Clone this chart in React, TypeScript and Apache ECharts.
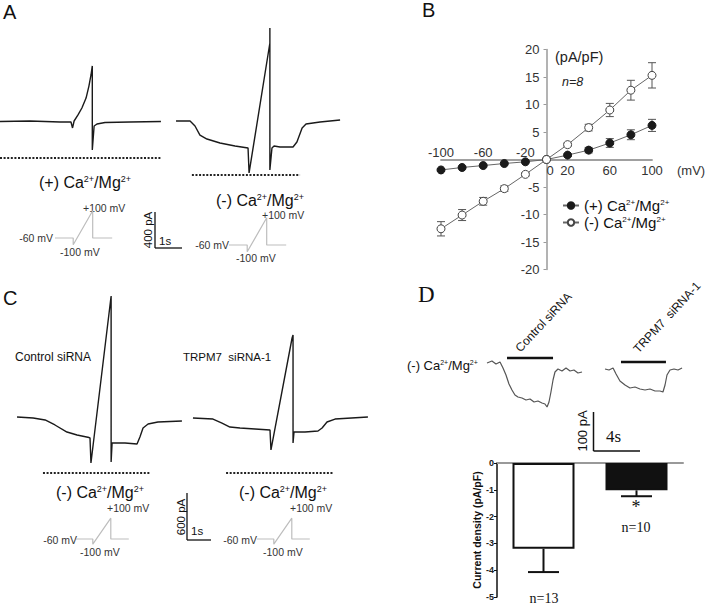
import React, { useEffect, useRef } from 'react';
import * as echarts from 'echarts';

const SANS = 'Liberation Sans, Arial, sans-serif';
const SERIF = 'Liberation Serif, Times New Roman, serif';

// ---- Panel B: I-V relationship ----
const IV_VOLTAGE = [-100, -80, -60, -40, -20, 0, 20, 40, 60, 80, 100];
const IV_PLUS = [-1.9, -1.45, -1.1, -0.73, -0.42, 0, 0.8, 1.7, 3.0, 4.5, 6.2];
const IV_PLUS_ERR = [0.2, 0.2, 0.2, 0.2, 0.15, 0, 0.25, 0.5, 0.8, 0.9, 1.1];
const IV_MINUS = [-12.6, -10.1, -7.6, -5.3, -2.7, 0, 2.7, 5.8, 9.0, 12.6, 15.3];
const IV_MINUS_ERR = [1.3, 1.0, 0.7, 0.5, 0.3, 0, 0.3, 0.6, 1.2, 1.8, 2.3];
const IV_LABELS_ABOVE = [-100, -60, -20];
const IV_LABELS_BELOW = [0, 20, 60, 100];
const PLUS_NAME = '(+) Ca2+/Mg2+';
const MINUS_NAME = '(-) Ca2+/Mg2+';

// ---- Panel D: current density bars ----
const BAR_GROUPS = ['Control siRNA', 'TRPM7 siRNA-1'];
const BAR_MEANS = [-3.2, -1.02];
const BAR_ERRS = [0.87, 0.22];
const BAR_N = ['n=13', 'n=10'];

// ---- Current traces (time s, current pA) ----
const A_TRACE_PLUS = [[0, -5], [1.15, 0], [2.31, -10], [2.73, -10], [2.79, -68], [2.85, 0], [3.0, 59], [3.15, 127], [3.31, 224], [3.42, 341], [3.5, 449], [3.55, 537], [3.55, -283], [3.62, -49], [3.73, -29], [4.04, -15], [5.0, -10], [6.19, -5]];
const A_TRACE_MINUS = [[6.77, 0], [7.31, 0], [7.5, -49], [7.69, -137], [7.96, -176], [8.46, -215], [9.04, -244], [9.54, -263], [9.58, -507], [10.38, 761], [10.38, 907], [10.38, -478], [10.46, -263], [10.54, -244], [10.77, -254], [11.27, -254], [11.42, -205], [11.62, -68], [11.77, -29], [12.31, -10], [13.08, 10]];
const A_ZERO_PLUS = [[0, -361], [6.23, -361]];
const A_ZERO_MINUS = [[7.38, -527], [11.54, -527]];

const C_TRACE_CONTROL = [[0.71, 0], [1.38, -13], [1.88, -38], [2.29, -102], [2.79, -192], [3.21, -230], [3.71, -262], [3.75, -268], [3.79, -587], [4.63, 1545], [4.63, -575], [4.67, -332], [5.21, -332], [5.71, -345], [5.83, -255], [5.96, -140], [6.17, -89], [6.58, -64], [7.58, -51]];
const C_TRACE_TRPM7 = [[8.04, -13], [8.875, -26], [9.25, -77], [9.58, -128], [10.0, -140], [10.625, -153], [11.25, -166], [11.29, -421], [12.17, 1009], [12.21, 1047], [12.21, -332], [12.25, -192], [12.71, -192], [13.25, -179], [13.42, -140], [13.625, -64], [13.96, -26], [15.33, 0]];
const C_ZERO_CONTROL = [[1.79, -715], [6.25, -715]];
const C_ZERO_TRPM7 = [[9.42, -715], [13.875, -715]];

const D_TRACE_CONTROL = [[0.61, 5], [1.04, 10], [1.39, 2.5], [1.74, 7.5], [2.0, -7.5], [2.26, -25], [2.52, -47.5], [2.78, -62.5], [3.04, -75], [3.3, -80], [3.65, -82.5], [4.0, -87.5], [4.35, -85], [4.7, -92.5], [5.04, -90], [5.39, -95], [5.65, -97.5], [5.83, -105], [6.0, -92.5], [6.17, -67.5], [6.35, -37.5], [6.52, -17.5], [6.78, -10], [7.13, -15], [7.48, -7.5], [7.83, -15], [8.17, -12.5], [8.52, -20], [8.87, -17.5]];
const D_TRACE_TRPM7 = [[10.87, -10], [11.22, -12.5], [11.57, -7.5], [11.83, -22.5], [12.17, -40], [12.61, -50], [13.04, -57.5], [13.48, -55], [13.91, -60], [14.35, -62.5], [14.78, -60], [15.22, -65], [15.65, -65], [15.91, -67.5], [16.09, -50], [16.26, -25], [16.52, -12.5], [16.87, -10], [17.22, -12.5], [17.57, -7.5]];
const D_BAR_CONTROL = [[2.35, 17.5], [6.35, 17.5]];
const D_BAR_TRPM7 = [[12.26, 7.5], [16.17, 7.5]];

// ---- Voltage ramp protocol (s, mV) ----
const PROTOCOL = [[0, -60], [0.7, -60], [0.7, -100], [1.45, 100], [1.45, -60], [2.2, -60]];

const supText = (pre: string) => `{n|${pre} Ca}{s|2+}{n|/Mg}{s|2+}`;

function text(x: number, y: number, t: string, o: any = {}) {
  const { rotation, ...st } = o;
  return {
    type: 'text',
    x,
    y,
    rotation: rotation || 0,
    silent: true,
    style: {
      text: t,
      fill: '#111',
      fontFamily: SANS,
      fontSize: 12,
      align: 'left',
      verticalAlign: 'middle',
      textAlign: st.align || 'left',
      textVerticalAlign: st.verticalAlign || 'middle',
      ...st,
    },
  };
}

function richLabel(x: number, y: number, pre: string, size: number, align = 'center') {
  return text(x, y, supText(pre), {
    align,
    fontSize: size,
    rich: {
      n: { fontSize: size, fontFamily: SANS, fill: '#111' },
      s: { fontSize: Math.round(size * 0.55), fontFamily: SANS, fill: '#111', verticalAlign: 'top' },
    },
  });
}

function seg(x1: number, y1: number, x2: number, y2: number, color = '#111', w = 1.3) {
  return { type: 'line', silent: true, shape: { x1, y1, x2, y2 }, style: { stroke: color, lineWidth: w } };
}

function traceSeries(data: number[][], xi: number, yi: number, color = '#1a1a1a', width = 1.4, type: any = 'solid') {
  return {
    type: 'line',
    xAxisIndex: xi,
    yAxisIndex: yi,
    data,
    symbol: 'none',
    showSymbol: false,
    silent: true,
    clip: false,
    lineStyle: { color, width, type },
    z: 3,
  };
}

function hiddenX(gridIndex: number, min: number, max: number) {
  return { gridIndex, type: 'value', min, max, show: false };
}
function hiddenY(gridIndex: number, min: number, max: number) {
  return { gridIndex, type: 'value', min, max, show: false };
}

function buildOption() {
  const grids: any[] = [
    { left: 441, top: 49.5, width: 211, height: 220 }, // 0 B
    { left: 497, top: 463, width: 186, height: 134 }, // 1 D bars
    { left: 0, top: 18.5, width: 351, height: 205 }, // 2 A traces
    { left: 0, top: 260.4, width: 372, height: 313.2 }, // 3 C traces
    { left: 480, top: 317, width: 230, height: 96 }, // 4 D traces
    { left: 55, top: 210.8, width: 57.2, height: 34 }, // 5 protocol A left
    { left: 229, top: 217.8, width: 57.2, height: 34 }, // 6 protocol A right
    { left: 76, top: 518.2, width: 52.8, height: 26 }, // 7 protocol C left
    { left: 257, top: 518.2, width: 52.8, height: 26 }, // 8 protocol C right
  ].map((g) => ({ ...g, containLabel: false, outerBoundsMode: 'none', show: false }));

  const ivAxisCommon = {
    gridIndex: 0,
    type: 'value',
    min: -100,
    max: 100,
    interval: 20,
    offset: -110,
    axisLine: { onZero: false, lineStyle: { color: '#9a9a9a', width: 1.5 } },
    axisTick: { show: false },
    splitLine: { show: false },
  };

  const xAxis: any[] = [
    {
      ...ivAxisCommon,
      position: 'top',
      axisLabel: {
        margin: 1,
        color: '#333',
        fontSize: 13,
        fontFamily: SANS,
        formatter: (v: number) => (IV_LABELS_ABOVE.includes(v) ? String(v) : ''),
      },
    },
    {
      ...ivAxisCommon,
      position: 'bottom',
      axisLabel: {
        margin: 4,
        color: '#333',
        fontSize: 13,
        fontFamily: SANS,
        formatter: (v: number) => {
          if (!IV_LABELS_BELOW.includes(v)) return '';
          if (v === 0) return `{z|${v}}`;
          return String(v);
        },
        rich: {
          z: { fontSize: 13, fontFamily: SANS, color: '#333', padding: [0, 0, 0, 7] },
        },
      },
      name: '(mV)',
      nameLocation: 'end',
      nameGap: 25,
      nameTextStyle: { color: '#333', fontSize: 13, fontFamily: SANS, align: 'left', verticalAlign: 'top', padding: [4, 0, 0, 0] },
    },
    {
      gridIndex: 1,
      type: 'category',
      data: BAR_GROUPS,
      position: 'top',
      axisLine: { onZero: false, lineStyle: { color: '#999', width: 2 } },
      axisTick: { show: false },
      axisLabel: { show: false },
    },
    hiddenX(2, 0, 13.5),
    hiddenX(3, 0, 15.5),
    hiddenX(4, 0, 20),
    hiddenX(5, 0, 2.2),
    hiddenX(6, 0, 2.2),
    hiddenX(7, 0, 2.2),
    hiddenX(8, 0, 2.2),
  ];

  const yAxis: any[] = [
    {
      gridIndex: 0,
      type: 'value',
      min: -20,
      max: 20,
      interval: 5,
      position: 'left',
      offset: -105.5,
      axisLine: { onZero: false, lineStyle: { color: '#9a9a9a', width: 1.5 } },
      axisTick: { show: true, length: 3, lineStyle: { color: '#9a9a9a' } },
      axisLabel: {
        margin: 7,
        color: '#333',
        fontSize: 13,
        fontFamily: SANS,
        formatter: (v: number) => (v === 0 ? '' : String(v)),
      },
      splitLine: { show: false },
    },
    {
      gridIndex: 1,
      type: 'value',
      min: -5,
      max: 0,
      interval: 1,
      axisLine: { show: true, onZero: false, lineStyle: { color: '#111', width: 1.5 } },
      axisTick: { show: true, length: 3, lineStyle: { color: '#111' } },
      axisLabel: { margin: 3, color: '#222', fontSize: 9, fontWeight: 'bold', fontFamily: SANS },
      splitLine: { show: false },
      name: 'Current density (pA/pF)',
      nameLocation: 'middle',
      nameGap: 14,
      nameTextStyle: { color: '#111', fontSize: 10.5, fontWeight: 'bold', fontFamily: SANS },
    },
    hiddenY(2, -1000, 1000),
    hiddenY(3, -2000, 2000),
    hiddenY(4, -120, 120),
    hiddenY(5, -100, 100),
    hiddenY(6, -100, 100),
    hiddenY(7, -100, 100),
    hiddenY(8, -100, 100),
  ];

  const ivErrRender = (params: any, api: any) => {
    const x = api.value(0);
    const y = api.value(1);
    const e = api.value(2);
    if (!e) return null;
    const t = api.coord([x, y + e]);
    const b = api.coord([x, y - e]);
    const w = 4;
    const st = { stroke: '#555', lineWidth: 1 };
    return {
      type: 'group',
      children: [
        { type: 'line', shape: { x1: t[0], y1: t[1], x2: b[0], y2: b[1] }, style: st },
        { type: 'line', shape: { x1: t[0] - w, y1: t[1], x2: t[0] + w, y2: t[1] }, style: st },
        { type: 'line', shape: { x1: b[0] - w, y1: b[1], x2: b[0] + w, y2: b[1] }, style: st },
      ],
    };
  };

  const barErrRender = (params: any, api: any) => {
    const i = api.value(0);
    const m = api.value(1);
    const e = api.value(2);
    const a = api.coord([i, m]);
    const b = api.coord([i, m - e]);
    const w = 15.5;
    const st = { stroke: '#111', lineWidth: 2 };
    return {
      type: 'group',
      children: [
        { type: 'line', shape: { x1: a[0], y1: a[1], x2: b[0], y2: b[1] }, style: st },
        { type: 'line', shape: { x1: b[0] - w, y1: b[1], x2: b[0] + w, y2: b[1] }, style: st },
      ],
    };
  };

  const series: any[] = [
    {
      type: 'custom',
      xAxisIndex: 1,
      yAxisIndex: 0,
      data: IV_VOLTAGE.map((v, i) => [v, IV_PLUS[i], IV_PLUS_ERR[i]]),
      renderItem: ivErrRender,
      encode: { x: 0, y: 1 },
      silent: true,
      z: 2,
    },
    {
      type: 'custom',
      xAxisIndex: 1,
      yAxisIndex: 0,
      data: IV_VOLTAGE.map((v, i) => [v, IV_MINUS[i], IV_MINUS_ERR[i]]),
      renderItem: ivErrRender,
      encode: { x: 0, y: 1 },
      silent: true,
      z: 2,
    },
    {
      name: PLUS_NAME,
      type: 'line',
      xAxisIndex: 1,
      yAxisIndex: 0,
      data: IV_VOLTAGE.map((v, i) => [v, IV_PLUS[i]]),
      symbol: 'circle',
      symbolSize: 8,
      itemStyle: { color: '#1a1a1a', borderColor: '#1a1a1a', borderWidth: 1 },
      lineStyle: { color: '#666', width: 1 },
      silent: true,
      z: 5,
    },
    {
      name: MINUS_NAME,
      type: 'line',
      xAxisIndex: 1,
      yAxisIndex: 0,
      data: IV_VOLTAGE.map((v, i) => [v, IV_MINUS[i]]),
      symbol: 'circle',
      symbolSize: 8,
      itemStyle: { color: '#ffffff', borderColor: '#444', borderWidth: 1 },
      lineStyle: { color: '#666', width: 1 },
      silent: true,
      z: 5,
    },
    {
      type: 'bar',
      xAxisIndex: 2,
      yAxisIndex: 1,
      barWidth: 62,
      silent: true,
      data: [
        { value: BAR_MEANS[0], itemStyle: { color: '#ffffff', borderColor: '#111', borderWidth: 2 } },
        { value: BAR_MEANS[1], itemStyle: { color: '#111', borderColor: '#111', borderWidth: 2 } },
      ],
      z: 2,
    },
    {
      type: 'custom',
      xAxisIndex: 2,
      yAxisIndex: 1,
      data: BAR_MEANS.map((m, i) => [i, m, BAR_ERRS[i]]),
      renderItem: barErrRender,
      encode: { x: 0, y: 1 },
      silent: true,
      z: 3,
    },
    traceSeries(A_TRACE_PLUS, 3, 2),
    traceSeries(A_TRACE_MINUS, 3, 2),
    traceSeries(A_ZERO_PLUS, 3, 2, '#222', 2, [2, 1.6]),
    traceSeries(A_ZERO_MINUS, 3, 2, '#222', 2, [2, 1.6]),
    traceSeries(C_TRACE_CONTROL, 4, 3),
    traceSeries(C_TRACE_TRPM7, 4, 3),
    traceSeries(C_ZERO_CONTROL, 4, 3, '#222', 2, [2, 1.6]),
    traceSeries(C_ZERO_TRPM7, 4, 3, '#222', 2, [2, 1.6]),
    traceSeries(D_TRACE_CONTROL, 5, 4, '#555', 1.2),
    traceSeries(D_TRACE_TRPM7, 5, 4, '#555', 1.2),
    traceSeries(D_BAR_CONTROL, 5, 4, '#111', 2.5),
    traceSeries(D_BAR_TRPM7, 5, 4, '#111', 2.5),
    traceSeries(PROTOCOL, 6, 5, '#bdbdbd', 1.2),
    traceSeries(PROTOCOL, 7, 6, '#bdbdbd', 1.2),
    traceSeries(PROTOCOL, 8, 7, '#bdbdbd', 1.2),
    traceSeries(PROTOCOL, 9, 8, '#bdbdbd', 1.2),
  ];

  const protoFont = { fontSize: 10.5, fill: '#333' };
  const graphic: any[] = [
    // panel letters
    text(3, 12, 'A', { fontSize: 20 }),
    text(422, 10, 'B', { fontSize: 20 }),
    text(3, 298, 'C', { fontSize: 20 }),
    text(418, 294, 'D', { fontSize: 23, fontFamily: SERIF }),
    // A labels
    richLabel(85, 182, '(+)', 16),
    richLabel(260, 200, '(-)', 16),
    // A protocols
    text(83, 208, '+100 mV', protoFont),
    text(53, 238, '-60 mV', { ...protoFont, align: 'right', textAlign: 'right' }),
    text(60, 252, '-100 mV', protoFont),
    text(262, 215, '+100 mV', protoFont),
    text(229, 245, '-60 mV', { ...protoFont, align: 'right', textAlign: 'right' }),
    text(236, 258, '-100 mV', protoFont),
    // A scale bar
    seg(155, 212, 155, 248),
    seg(155, 248, 182, 248),
    text(148, 230, '400 pA', { fontSize: 11.5, align: 'center', textAlign: 'center', rotation: Math.PI / 2 }),
    text(159, 241, '1s', { fontSize: 11.5 }),
    // B labels
    text(555, 57, '(pA/pF)', { fontSize: 14.5, fill: '#222' }),
    text(562, 82, 'n=8', { fontSize: 12.5, fontStyle: 'italic', fill: '#222' }),
    // C labels
    text(15, 357, 'Control siRNA', { fontSize: 12 }),
    text(183, 357, 'TRPM7  siRNA-1', { fontSize: 11.5 }),
    richLabel(100, 492, '(-)', 16),
    richLabel(283, 492, '(-)', 16),
    text(107, 508, '+100 mV', protoFont),
    text(77, 540, '-60 mV', { ...protoFont, align: 'right', textAlign: 'right' }),
    text(80, 552, '-100 mV', protoFont),
    text(290, 508, '+100 mV', protoFont),
    text(257, 540, '-60 mV', { ...protoFont, align: 'right', textAlign: 'right' }),
    text(263, 552, '-100 mV', protoFont),
    seg(187, 493, 187, 540),
    seg(187, 540, 211, 540),
    text(181, 517, '600 pA', { fontSize: 11.5, align: 'center', textAlign: 'center', rotation: Math.PI / 2 }),
    text(191, 531, '1s', { fontSize: 11.5 }),
    // D labels
    richLabel(407, 365, '(-)', 13, 'left'),
    text(522, 354, BAR_GROUPS[0], { fontSize: 12, verticalAlign: 'bottom', textVerticalAlign: 'bottom', rotation: (47 * Math.PI) / 180 }),
    text(640, 355, 'TRPM7  siRNA-1', { fontSize: 12, verticalAlign: 'bottom', textVerticalAlign: 'bottom', rotation: (47 * Math.PI) / 180 }),
    seg(593.5, 412, 593.5, 451, '#111', 1.5),
    seg(593.5, 451, 640, 451, '#111', 1.5),
    text(582, 431, '100 pA', { fontSize: 13, align: 'center', textAlign: 'center', rotation: Math.PI / 2 }),
    text(606, 436, '4s', { fontSize: 17, fontFamily: SERIF }),
    text(636, 507, '*', { fontSize: 18, fontFamily: SERIF, align: 'center', textAlign: 'center' }),
    text(636, 527, BAR_N[1], { fontSize: 14, fontFamily: SERIF, align: 'center', textAlign: 'center' }),
    text(544, 598, BAR_N[0], { fontSize: 14, fontFamily: SERIF, align: 'center', textAlign: 'center' }),
  ];

  return {
    animation: false,
    backgroundColor: '#ffffff',
    textStyle: { fontFamily: SANS },
    grid: grids,
    xAxis,
    yAxis,
    legend: {
      data: [PLUS_NAME, MINUS_NAME],
      left: 562,
      top: 198,
      orient: 'vertical',
      itemWidth: 16,
      itemHeight: 8,
      itemGap: 2,
      padding: 0,
      selectedMode: false,
      formatter: (name: string) => supText(name.startsWith('(+)') ? '(+)' : '(-)'),
      textStyle: {
        color: '#111',
        fontSize: 15,
        fontFamily: SANS,
        rich: {
          n: { fontSize: 15, fontFamily: SANS, color: '#111' },
          s: { fontSize: 8, fontFamily: SANS, color: '#111', verticalAlign: 'top' },
        },
      },
    },
    series,
    graphic,
  };
}

export default function App() {
  const ref = useRef<HTMLDivElement>(null);
  useEffect(() => {
    if (!ref.current) return;
    const chart = echarts.init(ref.current, null, { renderer: 'svg' });
    chart.setOption(buildOption() as any);
    return () => chart.dispose();
  }, []);
  return <div ref={ref} style={{ position: 'absolute', left: 0, top: 0, width: 710, height: 604 }} />;
}
